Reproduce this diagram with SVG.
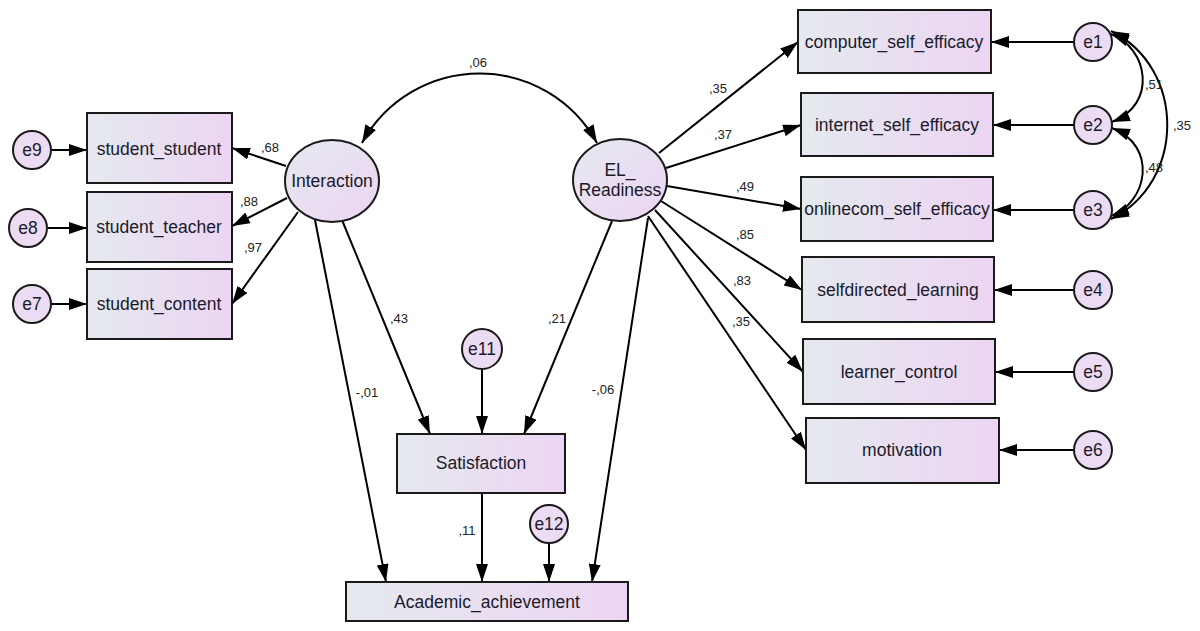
<svg xmlns="http://www.w3.org/2000/svg" width="1200" height="631" viewBox="0 0 1200 631">
<defs>
<linearGradient id="gbox" x1="0" y1="0" x2="1" y2="0">
<stop offset="0" stop-color="#e5e9ee"/>
<stop offset="1" stop-color="#ecd5f3"/>
</linearGradient>
<linearGradient id="gell" x1="0" y1="0" x2="1" y2="1">
<stop offset="0" stop-color="#e6e9f0"/>
<stop offset="1" stop-color="#ecd5f3"/>
</linearGradient>
<marker id="ah" viewBox="0 0 18 12" refX="18" refY="6" markerWidth="18" markerHeight="12" markerUnits="userSpaceOnUse" orient="auto-start-reverse">
<path d="M0,0 L18,6 L0,12 Z" fill="#000"/>
</marker>
</defs>
<style>
.box{fill:url(#gbox);stroke:#1a1a1a;stroke-width:2}
.ell{fill:url(#gell);stroke:#1a1a1a;stroke-width:2}
.err{fill:#ecdcf3;stroke:#1a1a1a;stroke-width:2}
.t{font-family:"Liberation Sans",Arial,sans-serif;font-size:17.5px;fill:#1a1a2a;text-anchor:middle;dominant-baseline:central}
.l{font-family:"Liberation Sans",Arial,sans-serif;font-size:13px;fill:#222;text-anchor:middle;dominant-baseline:central}
.c{fill:none;stroke:#000;stroke-width:2;marker-end:url(#ah)}
.cc{fill:none;stroke:#000;stroke-width:2;marker-end:url(#ah);marker-start:url(#ah)}
</style>
<rect width="1200" height="631" fill="#fff"/>
<g id="connectors">
<line class="c" x1="51" y1="150" x2="87" y2="150"/>
<line class="c" x1="48" y1="228" x2="87" y2="228"/>
<line class="c" x1="51" y1="304" x2="87" y2="304"/>
<line class="c" x1="286" y1="166" x2="232" y2="148"/>
<line class="c" x1="287" y1="198" x2="232" y2="226"/>
<line class="c" x1="298" y1="212" x2="232" y2="304"/>
<line class="c" x1="315" y1="220" x2="386" y2="582"/>
<line class="c" x1="342" y1="220" x2="430" y2="434"/>
<line class="c" x1="612" y1="221" x2="524" y2="434"/>
<line class="c" x1="648" y1="218" x2="592" y2="582"/>
<line class="c" x1="482" y1="369" x2="482" y2="434"/>
<line class="c" x1="482" y1="493" x2="482" y2="582"/>
<line class="c" x1="549" y1="543" x2="549" y2="582"/>
<line class="c" x1="659" y1="153" x2="798" y2="42"/>
<line class="c" x1="666" y1="168" x2="801" y2="125"/>
<line class="c" x1="667" y1="186" x2="801" y2="209"/>
<line class="c" x1="661" y1="201" x2="802" y2="290"/>
<line class="c" x1="655" y1="210" x2="803" y2="372"/>
<line class="c" x1="648" y1="216" x2="806" y2="450"/>
<line class="c" x1="1074" y1="42" x2="991" y2="42"/>
<line class="c" x1="1074" y1="125" x2="993" y2="125"/>
<line class="c" x1="1074" y1="210" x2="993" y2="210"/>
<line class="c" x1="1074" y1="290" x2="994" y2="290"/>
<line class="c" x1="1074" y1="372" x2="995" y2="372"/>
<line class="c" x1="1074" y1="450" x2="999" y2="450"/>
<path class="cc" d="M362,143 A134,134 0 0 1 597,143"/>
<path class="cc" d="M1111,34 C1148,48 1158,104 1112,122"/>
<path class="cc" d="M1112,128 C1158,146 1148,202 1111,216"/>
<path class="cc" d="M1111,31 C1186,68 1186,182 1111,219"/>
</g>
<g id="labels">
<text class="l" x="478" y="62">,06</text>
<text class="l" x="270" y="147">,68</text>
<text class="l" x="249" y="201">,88</text>
<text class="l" x="253" y="247">,97</text>
<text class="l" x="367" y="392">-,01</text>
<text class="l" x="399" y="318">,43</text>
<text class="l" x="557" y="318">,21</text>
<text class="l" x="603" y="389">-,06</text>
<text class="l" x="467" y="530">,11</text>
<text class="l" x="718" y="88">,35</text>
<text class="l" x="723" y="134">,37</text>
<text class="l" x="745" y="186">,49</text>
<text class="l" x="745" y="234">,85</text>
<text class="l" x="742" y="280">,83</text>
<text class="l" x="741" y="321">,35</text>
<text class="l" x="1154" y="84">,51</text>
<text class="l" x="1154" y="167">,48</text>
<text class="l" x="1182" y="125">,35</text>
</g>
<g id="student_student"><rect class="box" x="87" y="113" width="145" height="70"/><text class="t" x="159" y="149">student_student</text></g>
<g id="student_teacher"><rect class="box" x="87" y="192" width="145" height="70"/><text class="t" x="159" y="227">student_teacher</text></g>
<g id="student_content"><rect class="box" x="87" y="269" width="145" height="70"/><text class="t" x="159" y="304">student_content</text></g>
<g id="e9"><circle class="err" cx="32" cy="150" r="19"/><text class="t" x="32" y="150">e9</text></g>
<g id="e8"><circle class="err" cx="28" cy="228" r="19"/><text class="t" x="28" y="228">e8</text></g>
<g id="e7"><circle class="err" cx="32" cy="304" r="19"/><text class="t" x="32" y="304">e7</text></g>
<g id="Interaction"><ellipse class="ell" cx="332" cy="181" rx="47" ry="41"/><text class="t" x="332" y="181">Interaction</text></g>
<g id="EL_Readiness"><ellipse class="ell" cx="620" cy="180" rx="47" ry="41"/><text class="t" x="620" y="170">EL_</text><text class="t" x="620" y="190">Readiness</text></g>
<g id="computer_self_efficacy"><rect class="box" x="798" y="10" width="193" height="63"/><text class="t" x="894" y="42">computer_self_efficacy</text></g>
<g id="internet_self_efficacy"><rect class="box" x="801" y="93" width="192" height="63"/><text class="t" x="897" y="125">internet_self_efficacy</text></g>
<g id="onlinecom_self_efficacy"><rect class="box" x="801" y="177" width="192" height="64"/><text class="t" x="897" y="209">onlinecom_self_efficacy</text></g>
<g id="selfdirected_learning"><rect class="box" x="802" y="257" width="192" height="65"/><text class="t" x="898" y="290">selfdirected_learning</text></g>
<g id="learner_control"><rect class="box" x="803" y="339" width="192" height="65"/><text class="t" x="899" y="372">learner_control</text></g>
<g id="motivation"><rect class="box" x="806" y="418" width="193" height="65"/><text class="t" x="902" y="450">motivation</text></g>
<g id="e1"><circle class="err" cx="1093" cy="42" r="19"/><text class="t" x="1093" y="42">e1</text></g>
<g id="e2"><circle class="err" cx="1093" cy="125" r="19"/><text class="t" x="1093" y="125">e2</text></g>
<g id="e3"><circle class="err" cx="1093" cy="210" r="19"/><text class="t" x="1093" y="210">e3</text></g>
<g id="e4"><circle class="err" cx="1093" cy="290" r="19"/><text class="t" x="1093" y="290">e4</text></g>
<g id="e5"><circle class="err" cx="1093" cy="372" r="19"/><text class="t" x="1093" y="372">e5</text></g>
<g id="e6"><circle class="err" cx="1093" cy="450" r="19"/><text class="t" x="1093" y="450">e6</text></g>
<g id="e11"><circle class="err" cx="482" cy="349" r="20"/><text class="t" x="482" y="349">e11</text></g>
<g id="e12"><circle class="err" cx="549" cy="524" r="19"/><text class="t" x="549" y="524">e12</text></g>
<g id="Satisfaction"><rect class="box" x="397" y="434" width="168" height="59"/><text class="t" x="481" y="463">Satisfaction</text></g>
<g id="Academic_achievement"><rect class="box" x="346" y="582" width="282" height="39"/><text class="t" x="487" y="602">Academic_achievement</text></g>
</svg>
